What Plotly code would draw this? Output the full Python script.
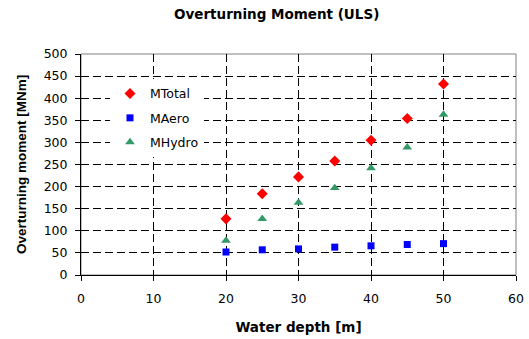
import plotly.graph_objects as go

depth = [20, 25, 30, 35, 40, 45, 50]
m_total = [127, 184, 222, 258, 305, 354, 432]
m_aero = [52, 57, 59, 63, 66, 69, 71]
m_hydro = [78, 127, 164, 197, 242, 289, 363]

wide = "DejaVu Sans, Verdana, sans-serif"
narrow = "Liberation Sans, Arial, sans-serif"

fig = go.Figure()
fig.add_trace(go.Scatter(x=depth, y=m_total, mode="markers", name="MTotal", legendgroup="a",
                         marker=dict(symbol="diamond", size=8.5, color="#FF0000")))
fig.add_trace(go.Scatter(x=depth, y=m_aero, mode="markers", name="MAero", legendgroup="b",
                         marker=dict(symbol="square", size=7, color="#0000FF")))
fig.add_trace(go.Scatter(x=depth, y=m_hydro, mode="markers", name="MHydro", legendgroup="c",
                         marker=dict(symbol="triangle-up", size=8.5, color="#339966")))

fig.update_layout(
    width=529, height=339,
    margin=dict(l=81, r=13, t=54, b=64),
    paper_bgcolor="white", plot_bgcolor="white",
    font=dict(family=wide, size=12.5, color="black"),
    title=dict(text="<b>Overturning Moment (ULS)</b>", xref="container", x=0.523, xanchor="center",
               yref="container", y=1 - 14 / 339, yanchor="middle",
               font=dict(family=wide, size=13.5)),
    legend=dict(x=(110 - 81) / 435, y=(275.3 - 79) / 221.3, xanchor="left", yanchor="top",
                bgcolor="white", font=dict(family=wide, size=12.5),
                tracegroupgap=5, itemwidth=30),
    showlegend=True,
    shapes=[dict(type="rect", xref="paper", yref="paper", x0=0, y0=0, x1=1, y1=1,
                 line=dict(color="#808080", width=1), layer="below")],
)
fig.update_xaxes(range=[0, 60], dtick=10, tick0=0, automargin=False,
                 showgrid=True, gridcolor="black", griddash="8px,4px", gridwidth=1,
                 showline=True, linecolor="black", linewidth=1,
                 ticks="outside", ticklen=5, tickcolor="black", ticklabelstandoff=7,
                 zeroline=False,
                 title=dict(text="<b>Water depth [m]</b>", font=dict(family=wide, size=13.5),
                            standoff=17))
fig.update_yaxes(range=[0, 500], dtick=50, tick0=0, automargin=False,
                 showgrid=True, gridcolor="black", griddash="8px,4px", gridwidth=1,
                 showline=True, linecolor="black", linewidth=1,
                 ticks="outside", ticklen=5, tickcolor="black", ticklabelstandoff=5,
                 zeroline=False,
                 title=dict(text="<b>Overturning moment [MNm]</b>",
                            font=dict(family=narrow, size=13.5), standoff=13))

fig.write_html("out.html", config={"displayModeBar": False},
               post_script="document.body.style.margin='0';document.body.style.overflow='hidden';")
